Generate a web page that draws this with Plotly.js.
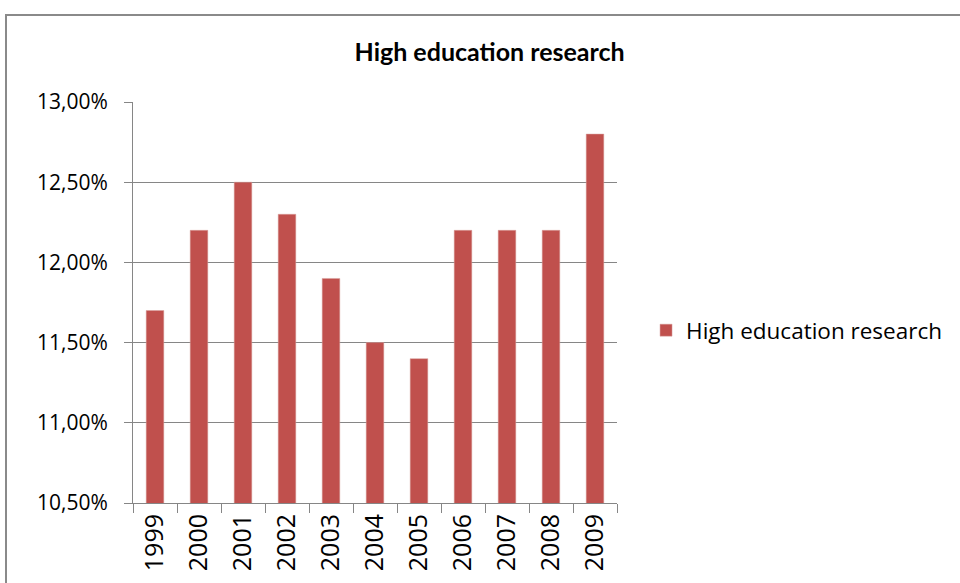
<!DOCTYPE html>
<html>
<head>
<meta charset="utf-8">
<script src="https://cdn.plot.ly/plotly-3.0.1.min.js"></script>
<style>
html,body{margin:0;padding:0;background:#fff;}
#frame{position:absolute;left:5px;top:14px;width:1000px;height:600px;border-left:2px solid #8a8a8a;border-top:2px solid #8a8a8a;box-sizing:border-box;}
#chart{position:absolute;left:0;top:0;width:960px;height:583px;}
</style>
</head>
<body>
<div id="frame"></div>
<div id="chart"></div>
<script>
const years = ['1999','2000','2001','2002','2003','2004','2005','2006','2007','2008','2009'];
const values = [0.117, 0.122, 0.125, 0.123, 0.119, 0.115, 0.114, 0.122, 0.122, 0.122, 0.128];
const seriesName = 'High education research';
const titleText = 'High education research';

const font = '"Open Sans", Lato, sans-serif';
const grid = '#868686';

Plotly.newPlot('chart', [{
  type: 'bar',
  x: years,
  y: values,
  name: seriesName,
  marker: {color: '#C0504D', line: {color: '#d9a09e', width: 0.5}},
  showlegend: true
}], {
  width: 960, height: 583,
  paper_bgcolor: 'rgba(0,0,0,0)',
  plot_bgcolor: 'rgba(0,0,0,0)',
  separators: ',.',
  margin: {l: 133, r: 343, t: 102, b: 80},
  bargap: 0.6,
  title: {text: '<b>' + titleText + '</b>', x: 0.51, xanchor: 'center', y: 0.91, yanchor: 'middle',
          font: {family: 'Lato, sans-serif', size: 25, color: '#000'}},
  xaxis: {
    type: 'category',
    tickangle: -90,
    tickson: 'boundaries',
    ticks: 'outside', ticklen: 9, tickcolor: grid, tickwidth: 1,
    showline: true, linecolor: grid, linewidth: 1,
    showgrid: false,
    tickfont: {family: font, size: 25, color: '#000'}
  },
  yaxis: {
    range: [0.105, 0.130],
    dtick: 0.005, tick0: 0.105,
    tickformat: '.2%',
    ticks: 'outside', ticklen: 8, tickcolor: grid, tickwidth: 1,
    showline: true, linecolor: grid, linewidth: 1,
    showgrid: true, gridcolor: grid, gridwidth: 1,
    zeroline: false,
    tickfont: {family: font, size: 21, color: '#000'},
    ticklabelstandoff: 12
  },
  legend: {x: 1.06, xanchor: 'left', y: 0.43, yanchor: 'middle',
           font: {family: font, size: 22.5, color: '#000'}, bgcolor: 'rgba(0,0,0,0)',
           itemwidth: 30}
}, {displayModeBar: false, staticPlot: true});
</script>
</body>
</html>
